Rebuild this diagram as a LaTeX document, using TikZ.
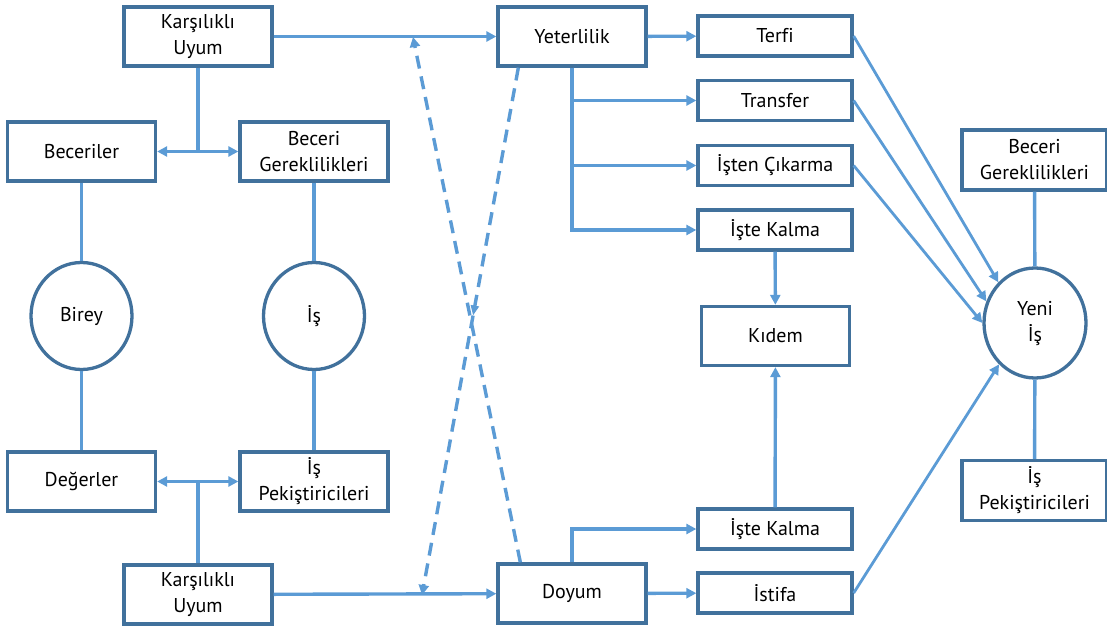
\documentclass[tikz,border=0pt]{standalone}
\usepackage{fontspec}
\setmainfont[Ligatures=CommonOff]{PT Sans}
\usetikzlibrary{arrows.meta,shapes.geometric,calc,decorations.markings}
\definecolor{kutumavi}{HTML}{41719C}
\definecolor{okmavi}{HTML}{5B9BD5}
\tikzset{
	kutu/.style={draw=kutumavi, line width=3.3pt, fill=white, align=center, inner sep=0pt, font=\fontsize{20}{26}\selectfont},
	genis/.style={kutu, minimum width=148pt, minimum height=59pt},
	dar/.style={kutu, minimum width=154pt, minimum height=40pt},
	yuvarlak/.style={kutu, ellipse, minimum width=101pt, minimum height=107pt},
	bag/.style={draw=okmavi, line width=3.4pt},
	ok/.style={bag, -{Triangle[length=10pt,width=10pt]}},
	ciftok/.style={bag, {Triangle[length=10pt,width=10pt]}-{Triangle[length=10pt,width=10pt]}},
	ince/.style={draw=okmavi, line width=2.8pt, -{Triangle[length=10pt,width=10pt]}},
	kesik/.style={ok, dash pattern=on 13pt off 8pt}
}

\begin{document}
\begin{tikzpicture}[x=1pt,y=-1pt]
	\useasboundingbox (0,0) rectangle (1107,628);
	
	% sol taraf
	\node[genis] (kuust) at (198,36.5) {Karşılıklı\\Uyum};
	\node[genis] (beceriler) at (81.5,151.5) {Beceriler};
	\node[genis] (bgsol) at (314,151.5) {Beceri\\Gereklilikleri};
	\node[yuvarlak] (birey) at (81.5,316) {Birey};
	\node[yuvarlak] (is) at (314,316) {İş};
	\node[genis] (degerler) at (81.5,481.5) {Değerler};
	\node[genis] (ipsol) at (314,481.5) {İş\\Pekiştiricileri};
	\node[genis] (kualt) at (198,594.5) {Karşılıklı\\Uyum};
	
	% orta
	\node[genis] (yeterlilik) at (572,36.5) {Yeterlilik};
	\node[genis] (doyum) at (572,593.5) {Doyum};
	\node[dar] (terfi) at (775,36) {Terfi};
	\node[dar] (transfer) at (775,100.5) {Transfer};
	\node[dar] (isten) at (775,165.5) {İşten Çıkarma};
	\node[dar] (kalmaust) at (775,230) {İşte Kalma};
	\node[genis] (kidem) at (775.5,336) {Kıdem};
	\node[dar] (kalmaalt) at (775,529) {İşte Kalma};
	\node[dar] (istifa) at (775,593) {İstifa};
	
	% sag taraf
	\node[kutu, minimum width=145pt, minimum height=60pt] (bgsag) at (1034.5,160) {Beceri\\Gereklilikleri};
	\node[yuvarlak, minimum width=102pt, minimum height=110pt] (yeni) at (1035,323) {Yeni\\İş};
	\node[kutu, minimum width=145pt, minimum height=60pt] (ipsag) at (1034.5,490.5) {İş\\Pekiştiricileri};
	
	\draw[ciftok] (beceriler) -- (bgsol);
	\draw[bag] (kuust) -- (kuust |- beceriler);
	\draw[ciftok] (degerler) -- (ipsol);
	\draw[bag] (kualt) -- (kualt |- degerler);
	\draw[bag] (beceriler) -- (birey);
	\draw[bag] (birey) -- (degerler);
	\draw[bag] (bgsol) -- (is);
	\draw[bag] (is) -- (ipsol);
	
	\draw[ok] (kuust) -- (yeterlilik);
	\draw[ok] (kualt) -- (doyum);
	
	\coordinate (ustuc) at (413,37);
	\coordinate (altuc) at (422,595);
	\draw[kesik, postaction={decorate}, decoration={markings, mark=at position 0.47 with {\arrow[okmavi]{Triangle[length=10pt,width=8pt]}}}] ($(yeterlilik.south west)+(22,0)$) -- (altuc);
	\draw[kesik] ($(doyum.north west)+(24,0)$) -- (ustuc);
	
	\draw[ok] (yeterlilik) -- (terfi);
	\draw[ok] (yeterlilik.south) |- (transfer);
	\draw[ok] (yeterlilik.south) |- (isten);
	\draw[ok] (yeterlilik.south) |- (kalmaust);
	\draw[ok] (kalmaust) -- (kidem);
	\draw[ok] (doyum.north) |- (kalmaalt);
	\draw[ok] (kalmaalt) -- (kidem);
	\draw[ok] (doyum) -- (istifa);
	
	\draw[ince] (terfi.east) -- (yeni.132);
	\draw[ince] (transfer.east) -- (yeni.156);
	\draw[ince] (isten.east) -- (yeni.180);
	\draw[ince] (istifa.east) -- (yeni.229);
	\draw[bag] (bgsag) -- (yeni);
	\draw[bag] (yeni) -- (ipsag);
\end{tikzpicture}
\end{document}
